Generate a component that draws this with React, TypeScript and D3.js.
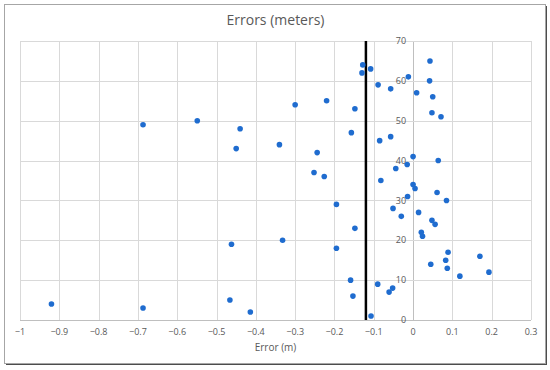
import { useEffect, useRef } from "react";
import * as d3 from "d3";

const C = {
  frame: "#a6a6a6", shadow: "#4d4d4d", grid: "#d9d9d9", axis: "#bfbfbf",
  text: "#595959", dot: "#1f6ccf", marker: "#000000",
};

const W = 550, H = 370;
const PLOT = { left: 20, right: 531, top: 41, bottom: 320 };

// error (m) per point, read top to bottom by depth 1..65
const DEPTH = d3.range(1, 66);
const ERROR = [
  -0.107, -0.414, -0.687, -0.92, -0.466, -0.153, -0.061, -0.052, -0.09, -0.159,
  0.119, 0.193, 0.087, 0.045, 0.083, 0.17, 0.089, -0.195, -0.462, -0.332,
  0.024, 0.021, -0.148, 0.056, 0.048, -0.03, 0.014, -0.051, -0.195, 0.085,
  -0.014, 0.061, 0.005, 0.0, -0.082, -0.226, -0.252, -0.044, -0.015, 0.064,
  0.0, -0.244, -0.45, -0.34, -0.085, -0.057, -0.157, -0.44, -0.687, -0.549,
  0.071, 0.048, -0.148, -0.30, -0.22, 0.05, 0.009, -0.057, -0.089, 0.042,
  -0.012, -0.13, -0.108, -0.128, 0.043,
];
const MEAN_ERROR = -0.12;

const X_TICKS = d3.range(-1, 0.31, 0.1).map(v => Math.round(v * 10) / 10);
const Y_TICKS = [0, 10, 20, 30, 40, 50, 60, 70];

export default function App() {
  const svgRef = useRef<SVGSVGElement>(null);

  useEffect(() => {
    const svg = d3.select(svgRef.current);
    svg.selectAll("*").remove();
    const font = "'Open Sans', 'Liberation Sans', sans-serif";

    const x = d3.scaleLinear().domain([-1, 0.3]).range([PLOT.left, PLOT.right]);
    const y = d3.scaleLinear().domain([0, 70]).range([PLOT.bottom, PLOT.top]);

    svg.append("rect").attr("width", W).attr("height", H).attr("fill", "#fff");

    // frame, darker edge on right/bottom
    svg.append("rect").attr("x", 6).attr("y", 6).attr("width", 541).attr("height", 359)
      .attr("fill", C.shadow);
    svg.append("rect").attr("x", 4.5).attr("y", 4.5).attr("width", 541).attr("height", 359)
      .attr("fill", "#fff").attr("stroke", C.frame).attr("stroke-width", 1);

    svg.append("text").attr("x", (PLOT.left + PLOT.right) / 2).attr("y", 25)
      .attr("text-anchor", "middle").attr("fill", C.text)
      .attr("font-family", font).attr("font-size", 14).text("Errors (meters)");

    // grid
    const g = svg.append("g");
    g.selectAll(".vx").data(X_TICKS).join("line")
      .attr("x1", d => Math.round(x(d)) + 0.5).attr("x2", d => Math.round(x(d)) + 0.5)
      .attr("y1", PLOT.top).attr("y2", PLOT.bottom)
      .attr("stroke", d => d === 0 ? C.axis : C.grid).attr("stroke-width", 1);
    g.selectAll(".hy").data(Y_TICKS).join("line")
      .attr("x1", PLOT.left).attr("x2", PLOT.right)
      .attr("y1", d => Math.round(y(d)) + 0.5).attr("y2", d => Math.round(y(d)) + 0.5)
      .attr("stroke", d => d === 0 ? C.axis : C.grid).attr("stroke-width", 1);

    // tick labels: y labels sit beside the x=0 axis
    g.selectAll(".yl").data(Y_TICKS).join("text")
      .attr("x", x(0) - 7).attr("y", d => y(d)).attr("dy", "0.35em")
      .attr("text-anchor", "end").attr("fill", C.text)
      .attr("font-family", font).attr("font-size", 9).text(d => d);
    g.selectAll(".xl").data(X_TICKS).join("text")
      .attr("x", d => x(d)).attr("y", PLOT.bottom + 12).attr("dy", "0.35em")
      .attr("text-anchor", "middle").attr("fill", C.text)
      .attr("font-family", font).attr("font-size", 9).text(d => d3.format("")(d));

    svg.append("text").attr("x", (PLOT.left + PLOT.right) / 2).attr("y", PLOT.bottom + 31)
      .attr("text-anchor", "middle").attr("fill", C.text)
      .attr("font-family", font).attr("font-size", 10).text("Error (m)");

    // mean error marker
    svg.append("line").attr("x1", x(MEAN_ERROR)).attr("x2", x(MEAN_ERROR))
      .attr("y1", PLOT.top).attr("y2", PLOT.bottom)
      .attr("stroke", C.marker).attr("stroke-width", 2.5);

    svg.append("g").selectAll("circle").data(DEPTH).join("circle")
      .attr("cx", (_, i) => x(ERROR[i])).attr("cy", d => y(d))
      .attr("r", 2.8).attr("fill", C.dot);
  }, []);

  return (
    <div style={{ position: "fixed", left: 0, top: 0, width: W, height: H, background: "#fff" }}>
      <svg ref={svgRef} width={W} height={H} style={{ display: "block" }} />
    </div>
  );
}
